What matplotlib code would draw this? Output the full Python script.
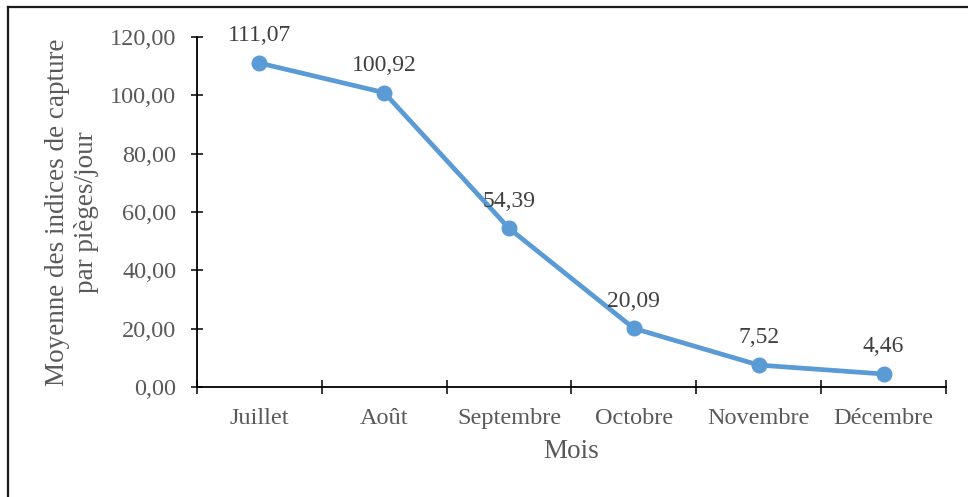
import matplotlib
matplotlib.use("Agg")
import matplotlib.pyplot as plt
from matplotlib.lines import Line2D

months = ["Juillet", "Août", "Septembre", "Octobre", "Novembre", "Décembre"]
values = [111.07, 100.92, 54.39, 20.09, 7.52, 4.46]
yticks = [0, 20, 40, 60, 80, 100, 120]

plt.rcParams['font.family'] = ['Liberation Serif', 'DejaVu Serif']
grey = '#595959'

fig = plt.figure(figsize=(9.68, 4.97), dpi=100)
ax = fig.add_axes([197/968, 1-387/497, (946-197)/968, (387-37)/497])

x = list(range(len(months)))
ax.plot(x, values, color='#5B9BD5', lw=3.4, marker='o', ms=10.5, solid_capstyle='round', zorder=3, clip_on=False)
for xi, v in zip(x, values):
    ax.annotate(f"{v:.2f}".replace('.', ','), (xi, v), xytext=(0, 12), textcoords='offset points',
                ha='center', va='bottom', fontsize=17, color='#404040')

ax.set_xlim(-0.5, len(months) - 0.5)
ax.set_ylim(0, 120)
ax.set_yticks(yticks)
ax.set_yticklabels([f"{t:.2f}".replace('.', ',') for t in yticks])
ax.set_xticks(x)
ax.set_xticklabels(months)
ax.set_xticks([i - 0.5 for i in range(len(months) + 1)], minor=True)

for s in ['top', 'right']:
    ax.spines[s].set_visible(False)
for s in ['left', 'bottom']:
    ax.spines[s].set_linewidth(1.3)
    ax.spines[s].set_color('black')

ax.tick_params(axis='y', direction='inout', length=8, width=1.1, pad=11, labelsize=17.5, labelcolor=grey)
ax.tick_params(axis='x', which='major', length=0, pad=15, labelsize=17.5, labelcolor=grey)
ax.tick_params(axis='x', which='minor', direction='inout', length=10, width=1.1)

ax.set_xlabel("Mois", fontsize=19.5, color=grey, labelpad=7)
ax.set_ylabel("Moyenne des indices de capture\npar pièges/jour", fontsize=19.5, color=grey,
              labelpad=8, linespacing=1.2)

fig.add_artist(Line2D([8/968, 8/968], [0, 1-7/497], color='#1a1a1a', lw=1.6, transform=fig.transFigure))
fig.add_artist(Line2D([8/968, 1], [1-7/497, 1-7/497], color='#1a1a1a', lw=1.6, transform=fig.transFigure))

fig.savefig("out.png", dpi=100)
